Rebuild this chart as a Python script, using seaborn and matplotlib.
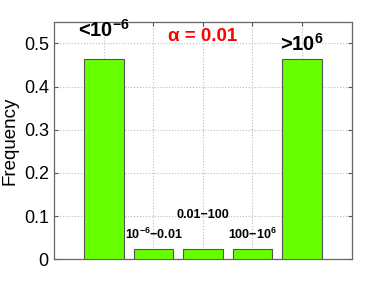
import matplotlib
matplotlib.use("Agg")
import matplotlib.pyplot as plt
import seaborn as sns
import pandas as pd

# ratio bins and their frequencies
bins = ["<1e-6", "1e-6-0.01", "0.01-100", "100-1e6", ">1e6"]
freq = [0.465, 0.023, 0.023, 0.023, 0.465]
bin_labels = ["<10$^{\\mathbf{-6}}$", "10$^{\\mathbf{-6}}$\u22120.01", "0.01\u2212100",
              "100\u221210$^{\\mathbf{6}}$", ">10$^{\\mathbf{6}}$"]
label_size = [14.5, 9, 9, 9, 14.5]
label_offset = [0.05, 0.024, 0.072, 0.024, 0.019]
yticks = [0, 0.1, 0.2, 0.3, 0.4, 0.5]
alpha_text = "\u03b1 = 0.01"

sns.set_style("white")
plt.rcParams["font.family"] = ["Liberation Sans", "DejaVu Sans"]
plt.rcParams["mathtext.fontset"] = "custom"
plt.rcParams["mathtext.rm"] = "Liberation Sans"
plt.rcParams["mathtext.bf"] = "Liberation Sans:bold"
plt.rcParams["mathtext.it"] = "Liberation Sans:italic"
plt.rcParams["text.color"] = "black"
plt.rcParams["axes.labelcolor"] = "black"
plt.rcParams["ytick.labelcolor"] = "black"

df = pd.DataFrame({"bin": bins, "freq": freq})

fig = plt.figure(figsize=(3.88, 2.92), dpi=100)
ax = fig.add_axes([0.140, 0.112, 0.766, 0.813])

sns.barplot(data=df, x="bin", y="freq", color="#66ff00", saturation=1,
            width=0.8, edgecolor="#555555", linewidth=0.8, ax=ax, zorder=3)

ax.set_xlim(-1, 5)
ax.set_ylim(0, 0.55)
ax.set_yticks(yticks)
ax.set_yticklabels(["0"] + [f"{t:g}" for t in yticks[1:]], fontsize=13)
ax.set_xticks(range(len(bins)))
ax.set_xticklabels([])
ax.set_xlabel("")
ax.set_ylabel("Frequency", fontsize=13.5)
ax.grid(True, linestyle=":", color="#bbbbbb", linewidth=0.8, zorder=0)
ax.tick_params(direction="in", length=3, top=True, right=True, bottom=True,
               left=True, color="#555555", pad=4)
for s in ax.spines.values():
    s.set_color("#666666")
    s.set_linewidth(0.9)

for i, (f, lab) in enumerate(zip(freq, bin_labels)):
    ax.text(i, f + label_offset[i], lab, ha="center", va="baseline",
            fontsize=label_size[i], fontweight="bold", zorder=4)

ax.text(2, 0.506, alpha_text, color="red", fontsize=13.5, fontweight="bold",
        ha="center", va="baseline")

fig.savefig("out.png", dpi=100)
